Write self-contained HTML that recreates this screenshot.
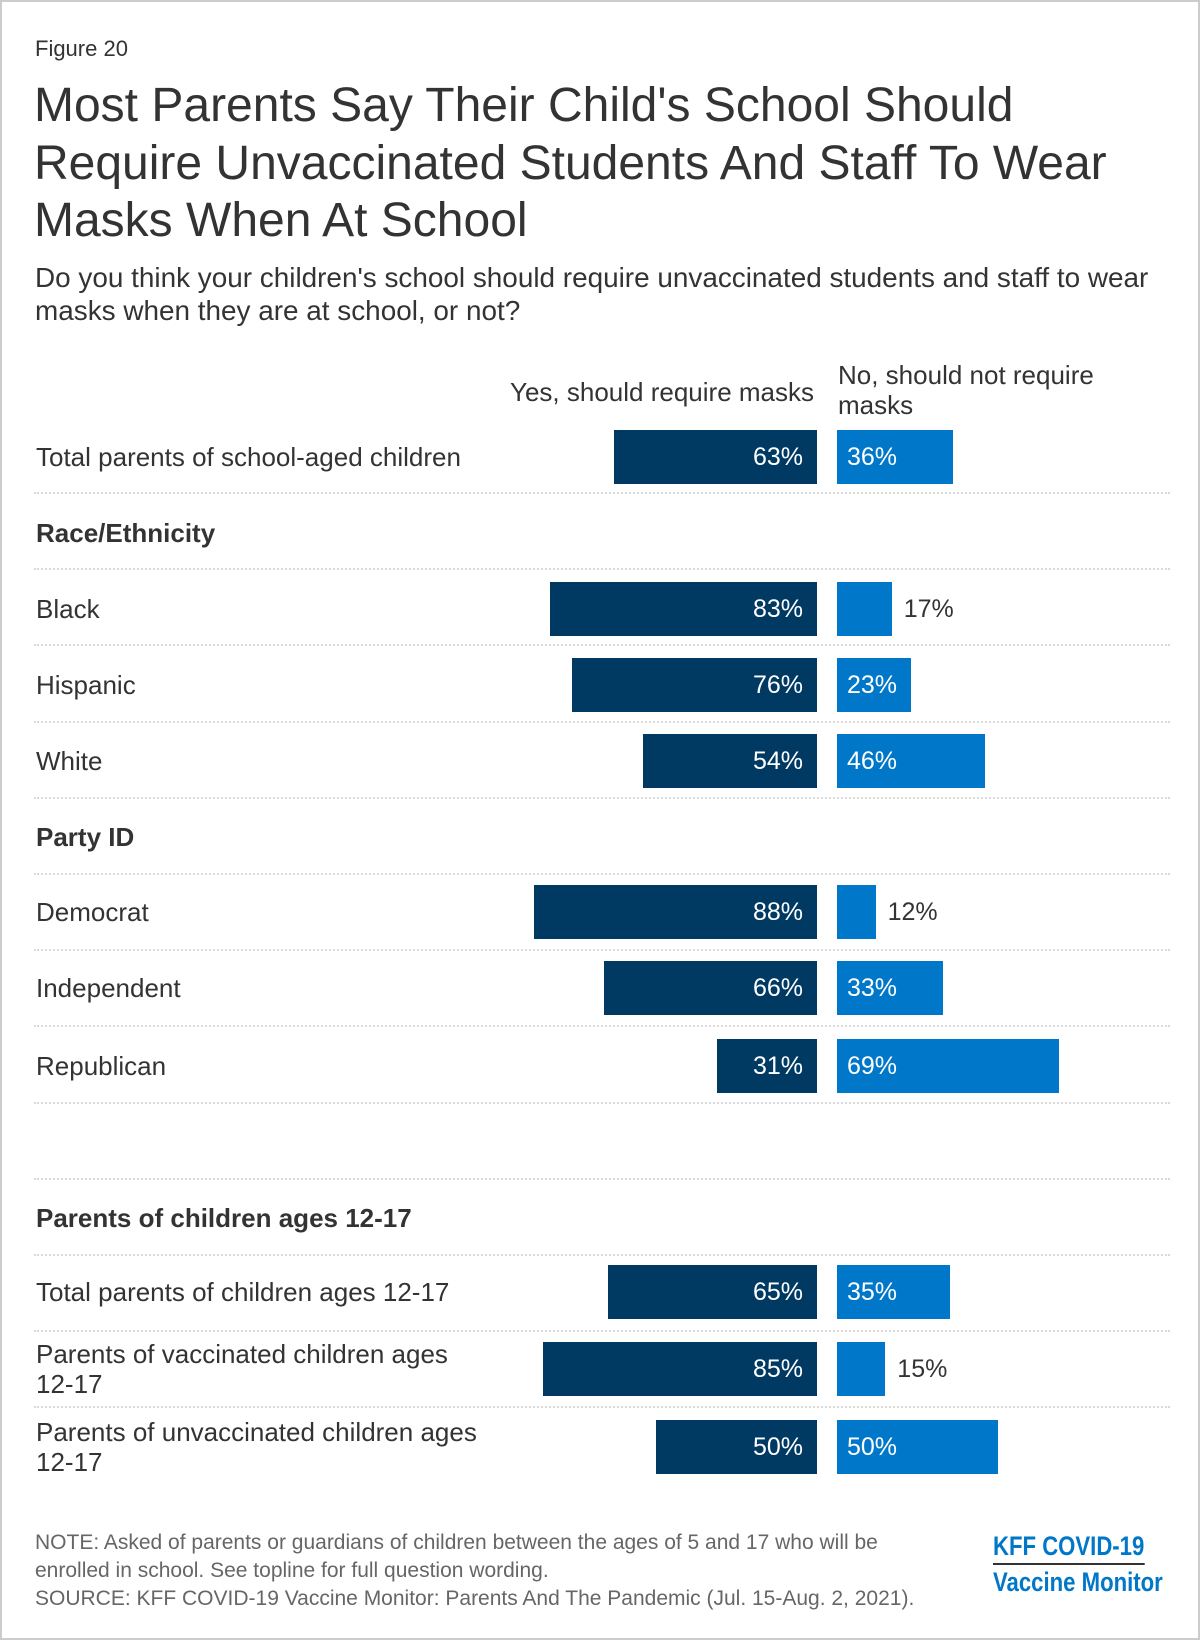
<!DOCTYPE html>
<html><head><meta charset="utf-8"><style>
html,body{margin:0;padding:0;background:#fff}
#wrap{position:relative;width:1200px;height:1640px;overflow:hidden;font-family:"Liberation Sans",Arial,sans-serif;color:#333;box-sizing:border-box;border:2px solid #ccc}
.t{position:absolute;white-space:nowrap}
.lbl{font-size:26px;line-height:30px;color:#333}
.hdr{font-weight:bold}
.dot{position:absolute;left:32px;width:1136px;height:0;border-top:2px dotted #d9d9d9}
.bar{position:absolute;height:54px}
.val{position:absolute;font-size:25px;line-height:54px}
</style></head><body>
<div id="wrap">
<div class="t" style="left:33px;top:34px;font-size:22px;color:#333">Figure 20</div>
<div class="t" style="left:32px;top:75px;font-size:48px;line-height:57.5px;color:#333">Most Parents Say Their Child's School Should<br>Require Unvaccinated Students And Staff To Wear<br>Masks When At School</div>
<div class="t" style="left:33px;top:259px;font-size:27.9px;line-height:33px;color:#333">Do you think your children's school should require unvaccinated students and staff to wear<br>masks when they are at school, or not?</div>
<div class="t lbl" style="right:384px;top:375px;text-align:right">Yes, should require masks</div>
<div class="t lbl" style="left:836px;top:358px">No, should not require<br>masks</div>
<div id="chart"></div>
<div class="t" style="left:33px;top:1527px;font-size:21px;line-height:28px;color:#666">NOTE: Asked of parents or guardians of children between the ages of 5 and 17 who will be<br>enrolled in school. See topline for full question wording.<br>SOURCE: KFF COVID-19 Vaccine Monitor: Parents And The Pandemic (Jul. 15-Aug. 2, 2021).</div>
<div class="t" style="left:991px;top:1528px;font-family:'Liberation Sans Narrow','Liberation Sans',sans-serif;font-weight:bold;color:#0077c8;font-size:27px;line-height:32px;transform:scaleX(0.82);transform-origin:0 0">
<div style="border-bottom:2px solid #333;padding-bottom:1px;display:inline-block">KFF COVID-19</div><br>
<div style="margin-top:1px">Vaccine Monitor</div></div>
</div>
<script>
const categories=["Total parents of school-aged children","Black","Hispanic","White","Democrat","Independent","Republican","Total parents of children ages 12-17","Parents of vaccinated children ages|12-17","Parents of unvaccinated children ages|12-17"];
const yesValues=[63,83,76,54,88,66,31,65,85,50];
const noValues=[36,17,23,46,12,33,69,35,15,50];
const rowCenters=[455,607,683,759,910,986,1064,1290,1367,1445];
const headers=["Race/Ethnicity","Party ID","Parents of children ages 12-17"];
const headerCenters=[531,835,1216];
const chart=document.getElementById('chart');
const scale=3.22, zeroYes=815, zeroNo=835, barH=54;
function xYes(v){return zeroYes-v*scale;}
function wNo(v){return v*scale;}
for(let k=0;k<13;k++){
  const d=document.createElement('div');d.className='dot';
  
  
  d.style.top=(490+k*76.2)+'px';chart.appendChild(d);
}
headers.forEach((h,i)=>{
  const d=document.createElement('div');d.className='t lbl hdr';
  
  
  d.style.left='34px';d.style.top=(headerCenters[i]-15)+'px';d.textContent=h;chart.appendChild(d);
});
categories.forEach((c,i)=>{
  const cy=rowCenters[i];
  const parts=c.split('|');
  const l=document.createElement('div');l.className='t lbl';
  
  
  l.style.left='34px';l.style.top=(cy-15*parts.length)+'px';
  l.innerHTML=parts.join('<br>');chart.appendChild(l);
  const y=yesValues[i],n=noValues[i];
  const b1=document.createElement('div');b1.className='bar';
  
  
  b1.style.background='#003a63';b1.style.left=xYes(y)+'px';b1.style.width=(zeroYes-xYes(y))+'px';b1.style.top=(cy-barH/2)+'px';chart.appendChild(b1);
  const v1=document.createElement('div');v1.className='val';
  
  
  v1.style.color='#fff';v1.style.right=(1200-zeroYes+10)+'px';v1.style.top=(cy-barH/2)+'px';v1.textContent=y+'%';chart.appendChild(v1);
  const b2=document.createElement('div');b2.className='bar';
  
  
  b2.style.background='#0077c8';b2.style.left=zeroNo+'px';b2.style.width=wNo(n)+'px';b2.style.top=(cy-barH/2)+'px';chart.appendChild(b2);
  const v2=document.createElement('div');v2.className='val';
  
  
  v2.style.top=(cy-barH/2)+'px';v2.textContent=n+'%';
  if(n<20){v2.style.color='#333';v2.style.left=(zeroNo+wNo(n)+12)+'px';}
  else{v2.style.color='#fff';v2.style.left=(zeroNo+10)+'px';}
  chart.appendChild(v2);
});
</script>
</body></html>
